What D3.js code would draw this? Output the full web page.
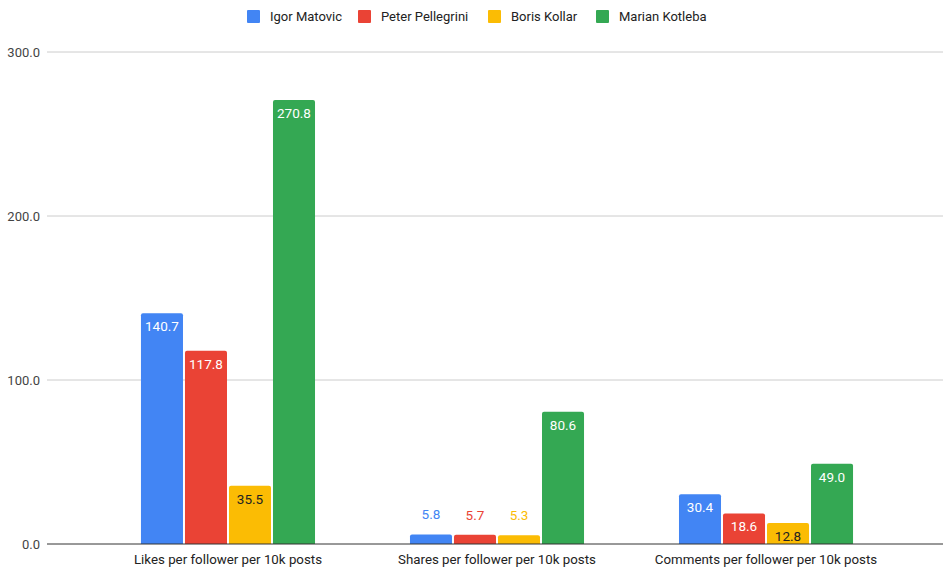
<!DOCTYPE html>
<html>
<head>
<meta charset="utf-8">
<script src="https://cdn.jsdelivr.net/npm/d3@7"></script>
<style>
  html, body { margin: 0; padding: 0; background: #fff; }
  svg { display: block; font-family: Roboto, "Liberation Sans", Arial, sans-serif; }
</style>
</head>
<body>
<svg id="chart" width="945" height="568"></svg>
<script>
// Engagement metrics per politician
const categories = [
  "Likes per follower per 10k posts",
  "Shares per follower per 10k posts",
  "Comments per follower per 10k posts"
];
const seriesNames = ["Igor Matovic", "Peter Pellegrini", "Boris Kollar", "Marian Kotleba"];
const igorMatovic     = [140.7, 5.8, 30.4];
const peterPellegrini = [117.8, 5.7, 18.6];
const borisKollar     = [35.5, 5.3, 12.8];
const marianKotleba   = [270.8, 80.6, 49.0];
const yTicks = [0, 100, 200, 300];

const seriesValues = [igorMatovic, peterPellegrini, borisKollar, marianKotleba];
const colors = ["#4285F4", "#EA4335", "#FBBC04", "#34A853"];
const insideLabelColors = ["#ffffff", "#ffffff", "#222222", "#ffffff"];

const svg = d3.select("#chart");
const area = { left: 47, right: 943, top: 52, bottom: 544 };

const x0 = d3.scaleBand()
  .domain(categories)
  .range([46, 948])
  .paddingInner(0.353)
  .paddingOuter(0.353);

const x1 = d3.scaleBand()
  .domain(seriesNames)
  .range([0, x0.bandwidth()])
  .paddingInner(0.045);

const y = d3.scaleLinear()
  .domain([0, 300])
  .range([area.bottom, area.top]);

// Horizontal gridlines
svg.append("g")
  .selectAll("line")
  .data(yTicks.filter(d => d !== 0))
  .join("line")
  .attr("x1", area.left)
  .attr("x2", area.right)
  .attr("y1", d => y(d))
  .attr("y2", d => y(d))
  .attr("stroke", "#cccccc")
  .attr("stroke-width", 1);

// Y axis labels
const yAxis = d3.axisLeft(y).tickValues(yTicks).tickFormat(d3.format(".1f")).tickSize(0).tickPadding(7);
const yg = svg.append("g").attr("transform", `translate(${area.left},0)`).call(yAxis);
yg.select(".domain").remove();
yg.selectAll("text")
  .attr("font-size", 13)
  .attr("fill", "#444444")
  .attr("font-family", "Roboto, 'Liberation Sans', Arial, sans-serif");

// Bars
const groups = svg.append("g")
  .selectAll("g")
  .data(categories)
  .join("g")
  .attr("transform", d => `translate(${x0(d)},0)`);

const barData = (cat, ci) => seriesNames.map((name, si) => ({
  name, si, value: seriesValues[si][ci]
}));

const insideThreshold = 18;

groups.each(function(cat, ci) {
  const g = d3.select(this);
  const data = barData(cat, ci);
  g.selectAll("path.bar")
    .data(data)
    .join("path")
    .attr("class", "bar")
    .attr("fill", d => colors[d.si])
    .attr("d", d => {
      const bx = x1(d.name), bw = x1.bandwidth();
      const top = y(d.value), bot = y(0);
      const r = Math.min(2, (bot - top) / 2);
      return `M${bx},${bot} L${bx},${top + r} Q${bx},${top} ${bx + r},${top} ` +
             `L${bx + bw - r},${top} Q${bx + bw},${top} ${bx + bw},${top + r} L${bx + bw},${bot} Z`;
    });

  g.selectAll("text.value")
    .data(data)
    .join("text")
    .attr("class", "value")
    .attr("x", d => x1(d.name) + x1.bandwidth() / 2)
    .attr("y", d => {
      const h = y(0) - y(d.value);
      return h > insideThreshold ? y(d.value) + 18 : y(d.value) - 15;
    })
    .attr("text-anchor", "middle")
    .attr("font-size", 13.5)
    .attr("fill", d => (y(0) - y(d.value) > insideThreshold) ? insideLabelColors[d.si] : colors[d.si])
    .text(d => d3.format(".1f")(d.value));
});

// Baseline
svg.append("line")
  .attr("x1", area.left)
  .attr("x2", area.right)
  .attr("y1", y(0))
  .attr("y2", y(0))
  .attr("stroke", "#333333")
  .attr("stroke-width", 1);

// Category labels
svg.append("g")
  .selectAll("text")
  .data(categories)
  .join("text")
  .attr("x", d => x0(d) + x0.bandwidth() / 2)
  .attr("y", area.bottom + 20)
  .attr("text-anchor", "middle")
  .attr("font-size", 13.3)
  .attr("fill", "#222222")
  .text(d => d);

// Legend
const legendX = [247, 358, 488, 596];
const legend = svg.append("g")
  .selectAll("g")
  .data(seriesNames)
  .join("g")
  .attr("transform", (d, i) => `translate(${legendX[i]},10)`);
legend.append("rect")
  .attr("width", 13).attr("height", 13).attr("rx", 1)
  .attr("fill", (d, i) => colors[i]);
legend.append("text")
  .attr("x", 23).attr("y", 11)
  .attr("font-size", 13)
  .attr("fill", "#222222")
  .text(d => d);
</script>
</body>
</html>
